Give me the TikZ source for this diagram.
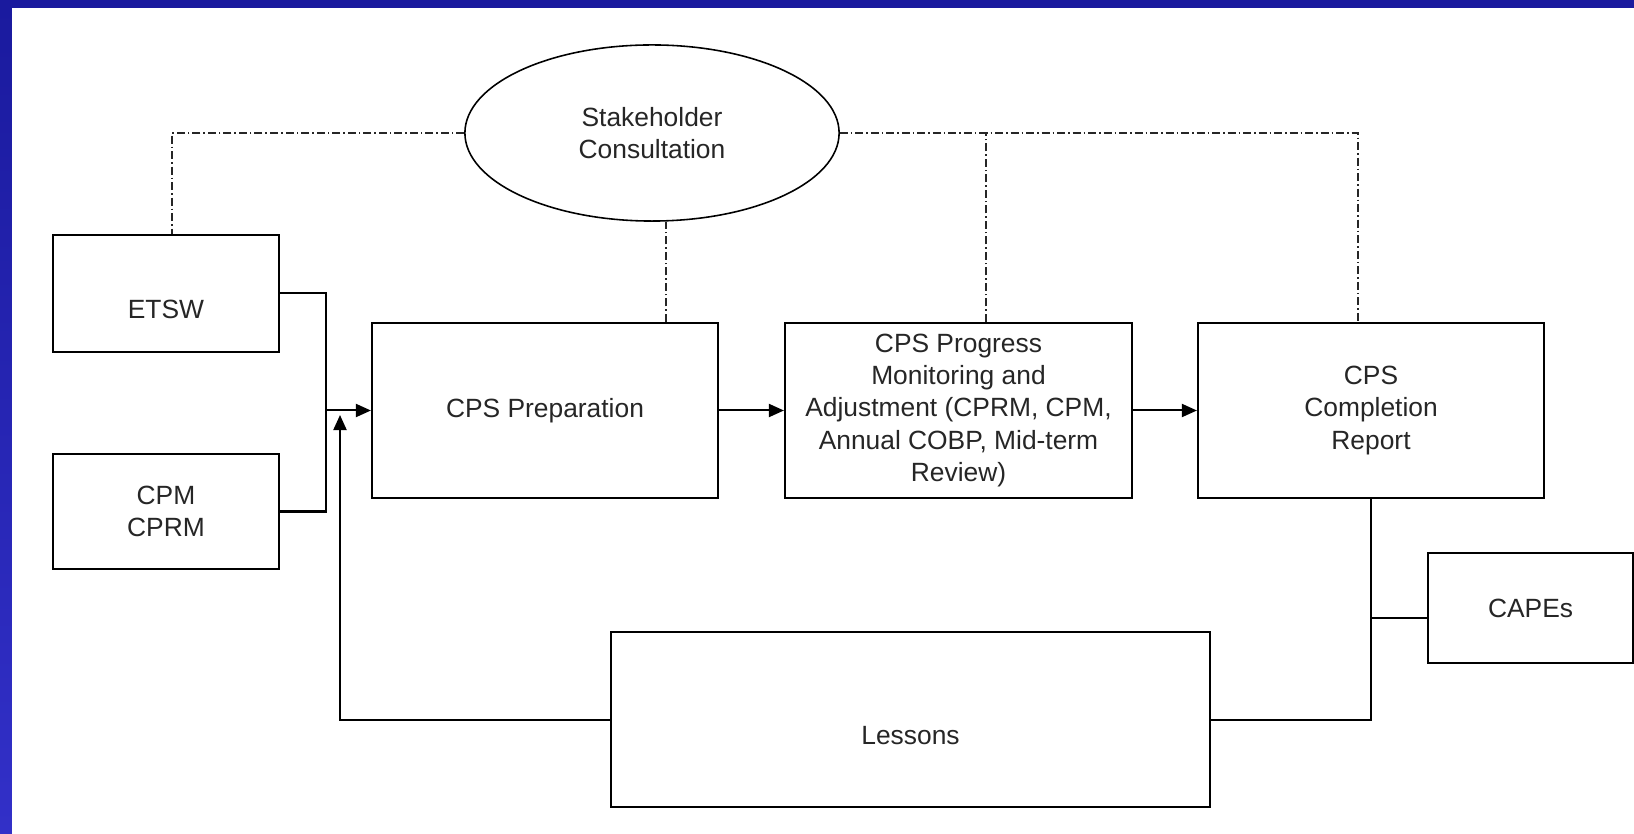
\documentclass[tikz,border=0pt]{standalone}
\usepackage{fontspec}
\setmainfont{Liberation Sans}
\usetikzlibrary{shapes.geometric,arrows.meta}
\definecolor{frametop}{RGB}{26,26,158}
\definecolor{framebot}{RGB}{50,48,200}
\tikzset{
  box/.style={draw, rectangle, line width=0.57pt, inner sep=0pt, align=center},
  lowtext/.style={text height=0.5cm, text depth=0pt},
  flow/.style={line width=0.57pt},
  link/.style={line width=0.45pt, draw=black!85,
    dash pattern=on 0.08cm off 0.03cm on 0.015cm off 0.03cm},
  tip/.style={-{Triangle[length=0.15cm,width=0.13cm]}}
}
\begin{document}
\begin{tikzpicture}[x=0.01cm, y=-0.01cm, font=\fontsize{7.5}{9.2}\selectfont, text=black!85]

\useasboundingbox (0,0) rectangle (1634,834);
\fill[top color=frametop, bottom color=framebot] (0,0) rectangle (1634,834);
\fill[white] (12,8) rectangle (1634,834);

\node (stake) at (652,133) [draw, ellipse, line width=0.45pt, inner sep=0pt,
  minimum width=3.74cm, minimum height=1.76cm, align=center]
  {Stakeholder\\Consultation};

\node (etsw) at (166,293.5) [box, lowtext, minimum width=2.26cm, minimum height=1.17cm] {ETSW};
\node (cpm) at (166,511.5) [box, minimum width=2.26cm, minimum height=1.15cm] {CPM\\CPRM};

\node (prep) at (545,410.5) [box, minimum width=3.46cm, minimum height=1.75cm] {CPS Preparation};
\node (prog) at (958.5,410.5) [box, minimum width=3.47cm, minimum height=1.75cm]
  {CPS Progress\\Monitoring and\\Adjustment (CPRM, CPM,\\Annual COBP, Mid-term\\Review)};
\node (comp) at (1371,410.5) [box, minimum width=3.46cm, minimum height=1.75cm]
  {CPS\\Completion\\Report};

\node (capes) at (1530.5,608) [box, minimum width=2.05cm, minimum height=1.10cm] {CAPEs};
\node (lessons) at (910.5,719.5) [box, lowtext, minimum width=5.99cm, minimum height=1.75cm] {Lessons};

% inputs into preparation
\coordinate (join) at (326,410.5);
\draw[flow] (etsw.east) -| (join);
\draw[flow] (cpm.east) -| (join);
\draw[flow,tip] (join) -- (prep.west);
\draw[flow,tip] (prep.east) -- (prog.west);
\draw[flow,tip] (prog.east) -- (comp.west);

% feedback of lessons
\coordinate (fbtip) at (340,415);
\draw[flow,tip] (lessons.west) -| (fbtip);
\draw[flow] (comp.south) |- (lessons.east);
\coordinate (tap) at (1371,618);
\draw[flow] (tap) -- (tap -| capes.west);

% consultation links
\coordinate (etswtap) at ([xshift=0.06cm]etsw.north);
\coordinate (preptap) at ([xshift=1.21cm]prep.north);
\coordinate (progtap) at ([xshift=0.275cm]prog.north);
\coordinate (comptap) at ([xshift=-0.13cm]comp.north);
\draw[link] (stake.west) -| (etswtap);
\draw[link] (stake.east) -| (comptap);
\draw[link] (progtap) -- (progtap |- stake.east);
\draw[link] (preptap) -- (preptap |- stake.south);

\end{tikzpicture}
\end{document}
